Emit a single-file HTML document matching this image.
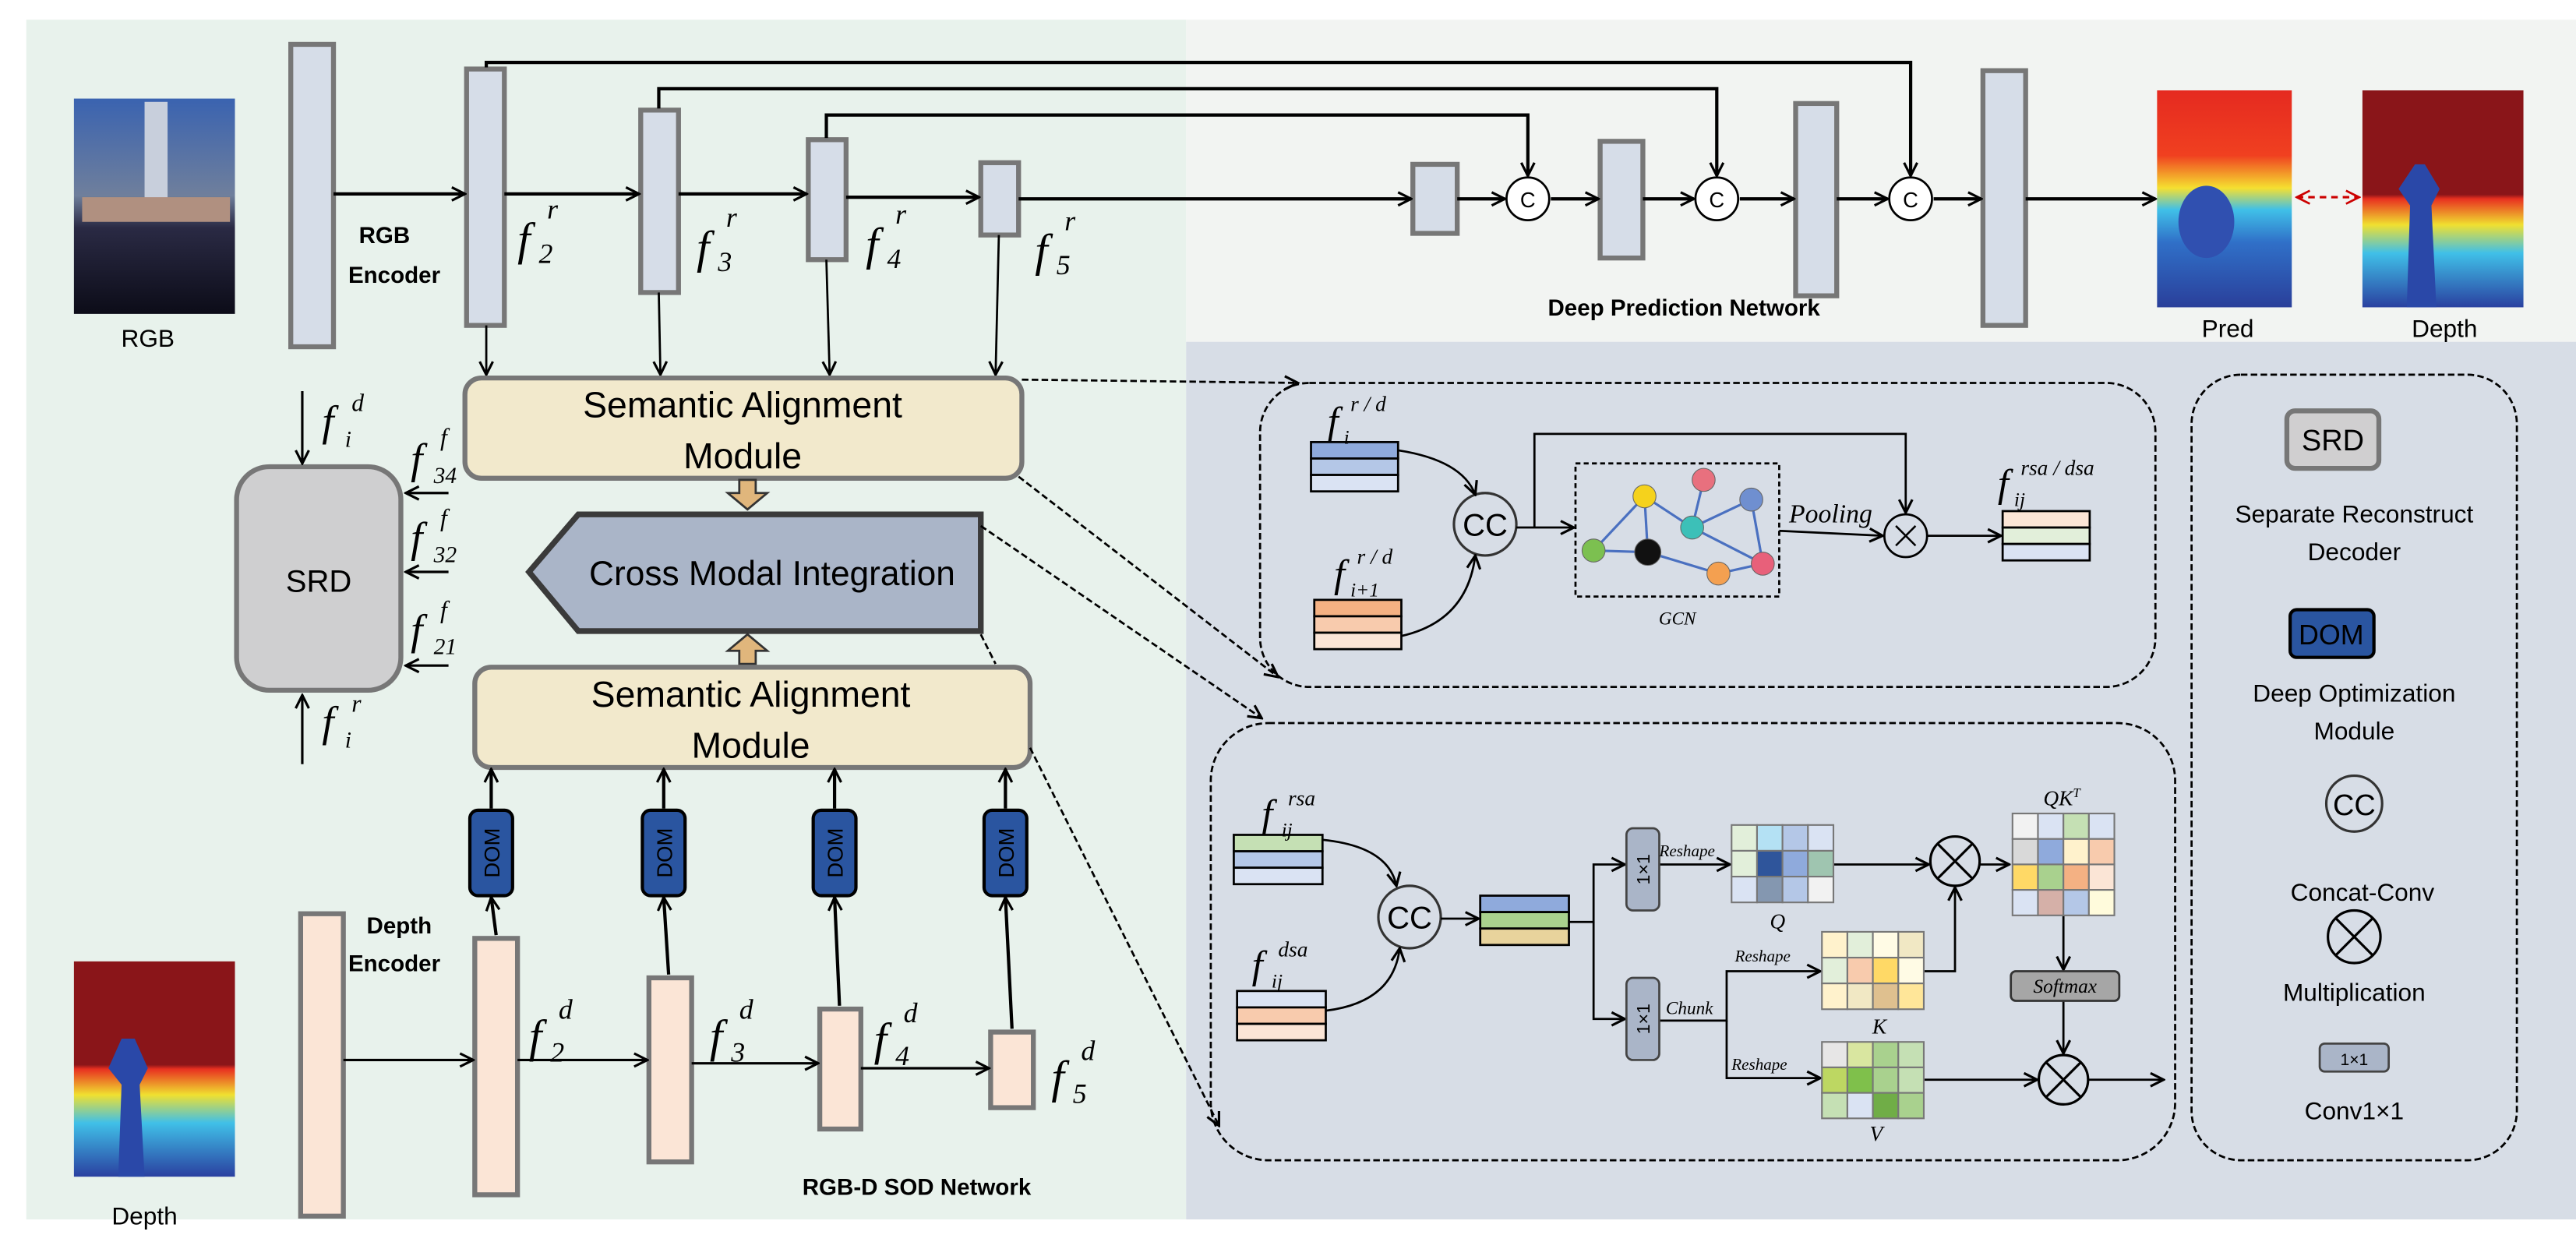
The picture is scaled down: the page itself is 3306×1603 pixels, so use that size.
<!DOCTYPE html>
<html><head><meta charset="utf-8"><style>
html,body{margin:0;padding:0;background:#fff;}
svg{display:block;}
text{font-family:"Liberation Sans Narrow","Liberation Sans",sans-serif;}
.m text, text.m{font-family:"Liberation Serif",serif;font-style:italic;}
</style></head><body>
<svg width="3306" height="1603" viewBox="0 0 1568 760" preserveAspectRatio="none" xmlns="http://www.w3.org/2000/svg">
<defs>
<marker id="a" markerWidth="10" markerHeight="10" refX="9" refY="5" orient="auto" markerUnits="userSpaceOnUse"><path d="M1,1 L9,5 L1,9" fill="none" stroke="#000" stroke-width="1.5"/></marker>
<marker id="ar" markerWidth="10" markerHeight="10" refX="9" refY="5" orient="auto-start-reverse" markerUnits="userSpaceOnUse"><path d="M1,1 L9,5 L1,9" fill="none" stroke="#c00" stroke-width="1.3"/></marker>
<linearGradient id="sky" x1="0" y1="0" x2="0" y2="1"><stop offset="0" stop-color="#3a63b0"/><stop offset="0.45" stop-color="#6f7f9c"/><stop offset="0.6" stop-color="#2a2a44"/><stop offset="1" stop-color="#0c0c18"/></linearGradient>
<linearGradient id="pred" x1="0" y1="0" x2="0" y2="1"><stop offset="0" stop-color="#e52a20"/><stop offset="0.3" stop-color="#f04020"/><stop offset="0.45" stop-color="#f5e030"/><stop offset="0.55" stop-color="#40c0e8"/><stop offset="0.7" stop-color="#3070c8"/><stop offset="1" stop-color="#2a3f9a"/></linearGradient>
<linearGradient id="dep" x1="0" y1="0" x2="0" y2="1"><stop offset="0" stop-color="#8a1519"/><stop offset="0.48" stop-color="#8a1519"/><stop offset="0.5" stop-color="#e83020"/><stop offset="0.62" stop-color="#f0e030"/><stop offset="0.75" stop-color="#40c0e8"/><stop offset="1" stop-color="#2a40a0"/></linearGradient>
</defs>
<rect width="1568" height="760" fill="#fff"/>
<rect x="16" y="12" width="706" height="730" fill="#e8f2ec"/>
<rect x="722" y="12" width="846" height="196" fill="#f2f4f2"/>
<rect x="722" y="208" width="846" height="534" fill="#d7dde6"/>

<rect x="45" y="60" width="98" height="131" fill="url(#sky)"/>
<rect x="88" y="62" width="14" height="60" fill="#c8cfdc"/>
<rect x="50" y="120" width="90" height="15" fill="#b09080"/>
<text x="90" y="211" font-size="15" text-anchor="middle">RGB</text>

<g fill="#d6dde8" stroke="#777" stroke-width="3">
<rect x="177" y="27" width="26" height="184"/>
<rect x="284" y="42" width="23" height="156"/>
<rect x="390" y="67" width="23" height="111"/>
<rect x="492" y="85" width="23" height="73"/>
<rect x="597" y="99" width="23" height="44"/>
<rect x="860" y="100" width="27" height="42"/>
<rect x="974" y="86" width="26" height="71"/>
<rect x="1093" y="63" width="25" height="117"/>
<rect x="1207" y="43" width="26" height="155"/>
</g>
<text x="234" y="148" font-size="14" font-weight="bold" text-anchor="middle">RGB</text>
<text x="240" y="172" font-size="14" font-weight="bold" text-anchor="middle">Encoder</text>
<g stroke="#000" stroke-width="2" fill="none" marker-end="url(#a)">
<line x1="203" y1="118" x2="283" y2="118"/>
<line x1="307" y1="118" x2="389" y2="118"/>
<line x1="413" y1="118" x2="491" y2="118"/>
<line x1="515" y1="120" x2="596" y2="120"/>
<line x1="620" y1="121" x2="859" y2="121"/>
<line x1="887" y1="121" x2="916" y2="121"/>
<line x1="944" y1="121" x2="973" y2="121"/>
<line x1="1000" y1="121" x2="1031" y2="121"/>
<line x1="1059" y1="121" x2="1092" y2="121"/>
<line x1="1118" y1="121" x2="1149" y2="121"/>
<line x1="1177" y1="121" x2="1206" y2="121"/>
<line x1="1233" y1="121" x2="1312" y2="121"/>
<polyline points="296,41 296,38 1163,38 1163,107"/>
<polyline points="401,66 401,54 1045,54 1045,107"/>
<polyline points="503,84 503,70 930,70 930,107"/>
</g>
<g fill="#fff" stroke="#000" stroke-width="1.3">
<circle cx="930" cy="121" r="13"/><circle cx="1045" cy="121" r="13"/><circle cx="1163" cy="121" r="13"/>
</g>
<g font-size="13" text-anchor="middle"><text x="930" y="126">C</text><text x="1045" y="126">C</text><text x="1163" y="126">C</text></g>
<g class="m" font-size="28">
<text x="315" y="155">f</text><text x="333" y="133" font-size="17">r</text><text x="328" y="160" font-size="17" font-style="normal">2</text>
<text x="424" y="160">f</text><text x="442" y="138" font-size="17">r</text><text x="437" y="165" font-size="17" font-style="normal">3</text>
<text x="527" y="158">f</text><text x="545" y="136" font-size="17">r</text><text x="540" y="163" font-size="17" font-style="normal">4</text>
<text x="630" y="162">f</text><text x="648" y="140" font-size="17">r</text><text x="643" y="167" font-size="17" font-style="normal">5</text>
</g>
<text x="1025" y="192" font-size="14" font-weight="bold" text-anchor="middle">Deep Prediction Network</text>

<rect x="1313" y="55" width="82" height="132" fill="url(#pred)"/>
<ellipse cx="1343" cy="135" rx="17" ry="22" fill="#3050b0"/>
<rect x="1438" y="55" width="98" height="132" fill="url(#dep)"/>
<path d="M1465,187 L1467,125 L1460,115 L1470,100 L1476,100 L1485,115 L1480,125 L1483,187Z" fill="#2a48a8"/>
<line x1="1398" y1="120" x2="1436" y2="120" stroke="#c00" stroke-width="1.5" stroke-dasharray="4,3" marker-start="url(#ar)" marker-end="url(#ar)"/>
<text x="1356" y="205" font-size="15" text-anchor="middle">Pred</text>
<text x="1488" y="205" font-size="15" text-anchor="middle">Depth</text>

<g stroke="#000" stroke-width="1.3" fill="none" marker-end="url(#a)">
<line x1="296" y1="198" x2="296" y2="228"/>
<line x1="401" y1="178" x2="402" y2="228"/>
<line x1="503" y1="158" x2="505" y2="228"/>
<line x1="608" y1="143" x2="606" y2="228"/>
</g>
<rect x="283" y="230" width="339" height="61" rx="10" fill="#f2e9cc" stroke="#777" stroke-width="3"/>
<text x="452" y="254" font-size="22" text-anchor="middle">Semantic Alignment</text>
<text x="452" y="285" font-size="22" text-anchor="middle">Module</text>
<path d="M450,292 h10 v8 h7 l-12,10 l-12,-10 h7z" fill="#e0b67c" stroke="#333" stroke-width="1.3"/>
<path d="M352,313 L597,313 L597,384 L352,384 L322,348Z" fill="#aab5c8" stroke="#3a3a3a" stroke-width="3.5"/>
<text x="470" y="356" font-size="21" text-anchor="middle">Cross Modal Integration</text>
<path d="M450,404 h10 v-8 h7 l-12,-10 l-12,10 h7z" fill="#e0b67c" stroke="#333" stroke-width="1.3"/>
<rect x="289" y="406" width="338" height="61" rx="10" fill="#f2e9cc" stroke="#777" stroke-width="3"/>
<text x="457" y="430" font-size="22" text-anchor="middle">Semantic Alignment</text>
<text x="457" y="461" font-size="22" text-anchor="middle">Module</text>

<rect x="144" y="284" width="100" height="136" rx="20" fill="#cfcfd0" stroke="#777" stroke-width="3"/>
<text x="194" y="360" font-size="19" text-anchor="middle">SRD</text>
<g stroke="#000" stroke-width="1.5" fill="none" marker-end="url(#a)">
<line x1="184" y1="238" x2="184" y2="282"/>
<line x1="273" y1="300" x2="247" y2="300"/>
<line x1="273" y1="348" x2="247" y2="348"/>
<line x1="273" y1="405" x2="247" y2="405"/>
<line x1="184" y1="465" x2="184" y2="423"/>
</g>
<g class="m" font-size="26">
<text x="196" y="265">f</text><text x="214" y="250" font-size="15">d</text><text x="210" y="272" font-size="14">i</text>
<text x="250" y="288">f</text><text x="268" y="271" font-size="15">f</text><text x="264" y="294" font-size="14" font-style="normal">34</text>
<text x="250" y="336">f</text><text x="268" y="320" font-size="15">f</text><text x="264" y="342" font-size="14" font-style="normal">32</text>
<text x="250" y="392">f</text><text x="268" y="376" font-size="15">f</text><text x="264" y="398" font-size="14" font-style="normal">21</text>
<text x="196" y="448">f</text><text x="214" y="433" font-size="15">r</text><text x="210" y="455" font-size="14">i</text>
</g>

<g fill="#2a55a0" stroke="#000" stroke-width="2">
<rect x="286" y="493" width="26" height="52" rx="5"/>
<rect x="391" y="493" width="26" height="52" rx="5"/>
<rect x="495" y="493" width="26" height="52" rx="5"/>
<rect x="599" y="493" width="26" height="52" rx="5"/>
</g>
<g font-size="13" text-anchor="middle">
<text transform="translate(304,519) rotate(-90)">DOM</text>
<text transform="translate(409,519) rotate(-90)">DOM</text>
<text transform="translate(513,519) rotate(-90)">DOM</text>
<text transform="translate(617,519) rotate(-90)">DOM</text>
</g>
<g stroke="#000" stroke-width="2" fill="none" marker-end="url(#a)">
<line x1="299" y1="492" x2="299" y2="468"/><line x1="404" y1="492" x2="404" y2="468"/>
<line x1="508" y1="492" x2="508" y2="468"/><line x1="612" y1="492" x2="612" y2="468"/>
<line x1="302" y1="569" x2="299" y2="546"/><line x1="407" y1="593" x2="404" y2="546"/>
<line x1="511" y1="612" x2="508" y2="546"/><line x1="616" y1="626" x2="612" y2="546"/>
</g>

<g fill="#fbe5d6" stroke="#777" stroke-width="3">
<rect x="183" y="556" width="26" height="184"/>
<rect x="289" y="571" width="26" height="156"/>
<rect x="395" y="595" width="26" height="112"/>
<rect x="499" y="614" width="25" height="73"/>
<rect x="603" y="628" width="26" height="46"/>
</g>
<g stroke="#000" stroke-width="1.5" fill="none" marker-end="url(#a)">
<line x1="209" y1="645" x2="288" y2="645"/>
<line x1="315" y1="645" x2="394" y2="645"/>
<line x1="421" y1="647" x2="498" y2="647"/>
<line x1="524" y1="650" x2="602" y2="650"/>
</g>
<text x="243" y="568" font-size="14" font-weight="bold" text-anchor="middle">Depth</text>
<text x="240" y="591" font-size="14" font-weight="bold" text-anchor="middle">Encoder</text>
<g class="m" font-size="28">
<text x="322" y="640">f</text><text x="340" y="620" font-size="17">d</text><text x="335" y="646" font-size="17" font-style="normal">2</text>
<text x="432" y="640">f</text><text x="450" y="620" font-size="17">d</text><text x="445" y="646" font-size="17" font-style="normal">3</text>
<text x="532" y="642">f</text><text x="550" y="622" font-size="17">d</text><text x="545" y="648" font-size="17" font-style="normal">4</text>
<text x="640" y="665">f</text><text x="658" y="645" font-size="17">d</text><text x="653" y="671" font-size="17" font-style="normal">5</text>
</g>
<rect x="45" y="585" width="98" height="131" fill="url(#dep)"/>
<path d="M72,716 L74,660 L66,650 L74,632 L82,632 L90,650 L85,660 L88,716Z" fill="#2a48a8"/>
<text x="88" y="745" font-size="15" text-anchor="middle">Depth</text>
<text x="558" y="727" font-size="14" font-weight="bold" text-anchor="middle">RGB-D SOD Network</text>

<g stroke="#000" stroke-width="1.3" fill="none" stroke-dasharray="4,2" marker-end="url(#a)">
<line x1="622" y1="231" x2="790" y2="233"/>
<line x1="620" y1="290" x2="778" y2="412"/>
<line x1="597" y1="320" x2="768" y2="437"/>
<line x1="627" y1="455" x2="742" y2="685"/>
</g>
<line x1="597" y1="386" x2="606" y2="404" stroke="#000" stroke-width="1.3" stroke-dasharray="4,2"/>

<rect x="767" y="233" width="545" height="185" rx="30" fill="none" stroke="#000" stroke-width="1.3" stroke-dasharray="4,2"/>
<g stroke="#000" stroke-width="1.3">
<rect x="798" y="269" width="53" height="10" fill="#8faadc"/><rect x="798" y="279" width="53" height="10" fill="#b4c7e7"/><rect x="798" y="289" width="53" height="10" fill="#dae3f3"/>
<rect x="800" y="365" width="53" height="10" fill="#f4b183"/><rect x="800" y="375" width="53" height="10" fill="#f8cbad"/><rect x="800" y="385" width="53" height="10" fill="#fbe5d6"/>
<rect x="1219" y="311" width="53" height="10" fill="#fbe5d6"/><rect x="1219" y="321" width="53" height="10" fill="#e2efda"/><rect x="1219" y="331" width="53" height="10" fill="#dae3f3"/>
</g>
<g class="m" font-size="24">
<text x="808" y="264">f</text><text x="822" y="250" font-size="13">r / d</text><text x="818" y="270" font-size="12">i</text>
<text x="812" y="357">f</text><text x="826" y="343" font-size="13">r / d</text><text x="822" y="363" font-size="12" font-style="normal">i+1</text>
<text x="1216" y="302">f</text><text x="1230" y="289" font-size="13">rsa / dsa</text><text x="1226" y="308" font-size="12">ij</text>
</g>
<circle cx="904" cy="319" r="19" fill="none" stroke="#333" stroke-width="1.5"/>
<text x="904" y="326" font-size="19" text-anchor="middle">CC</text>
<g stroke="#000" stroke-width="1.3" fill="none" marker-end="url(#a)">
<path d="M851,274 Q890,280 898,301"/>
<path d="M853,387 Q893,378 898,338"/>
<line x1="923" y1="321" x2="958" y2="321"/>
<polyline points="934,321 934,264 1160,264 1160,312"/>
<line x1="1083" y1="323" x2="1146" y2="326"/>
<line x1="1173" y1="326" x2="1218" y2="326"/>
</g>
<rect x="959" y="282" width="124" height="81" fill="none" stroke="#000" stroke-width="1.3" stroke-dasharray="3,2"/>
<g stroke="#4a70c0" stroke-width="1.5">
<line x1="970" y1="335" x2="1001" y2="302"/><line x1="1001" y1="302" x2="1003" y2="336"/><line x1="970" y1="335" x2="1003" y2="336"/>
<line x1="1001" y1="302" x2="1030" y2="321"/><line x1="1037" y1="292" x2="1030" y2="321"/><line x1="1066" y1="304" x2="1030" y2="321"/>
<line x1="1066" y1="304" x2="1073" y2="343"/><line x1="1030" y1="321" x2="1073" y2="343"/><line x1="1003" y1="336" x2="1046" y2="349"/><line x1="1046" y1="349" x2="1073" y2="343"/>
</g>
<g stroke="#666" stroke-width="0.5">
<circle cx="1001" cy="302" r="7" fill="#f5d21c"/><circle cx="1037" cy="292" r="7" fill="#e8707e"/><circle cx="1066" cy="304" r="7" fill="#6f8fd0"/>
<circle cx="1030" cy="321" r="7" fill="#3cc0b8"/><circle cx="970" cy="335" r="7" fill="#7cc050"/><circle cx="1003" cy="336" r="8" fill="#111"/>
<circle cx="1046" cy="349" r="7" fill="#f4a050"/><circle cx="1073" cy="343" r="7" fill="#e8607a"/>
</g>
<text x="1021" y="380" class="m" font-size="11" text-anchor="middle">GCN</text>
<text x="1089" y="318" class="m" font-size="16">Pooling</text>
<circle cx="1160" cy="326" r="13" fill="none" stroke="#000" stroke-width="1.3"/>
<path d="M1154,320 L1166,332 M1166,320 L1154,332" stroke="#000" stroke-width="1.2"/>

<rect x="737" y="440" width="587" height="266" rx="35" fill="none" stroke="#000" stroke-width="1.3" stroke-dasharray="4,2"/>
<g stroke="#000" stroke-width="1.3">
<rect x="751" y="508" width="54" height="10" fill="#c5e0b4"/><rect x="751" y="518" width="54" height="10" fill="#b4c7e7"/><rect x="751" y="528" width="54" height="10" fill="#dae3f3"/>
<rect x="753" y="603" width="54" height="10" fill="#dae3f3"/><rect x="753" y="613" width="54" height="10" fill="#f8cbad"/><rect x="753" y="623" width="54" height="10" fill="#fbe5d6"/>
<rect x="901" y="545" width="54" height="10" fill="#8faadc"/><rect x="901" y="555" width="54" height="10" fill="#a9d18e"/><rect x="901" y="565" width="54" height="10" fill="#e8d39c"/>
</g>
<g class="m" font-size="24">
<text x="768" y="503">f</text><text x="784" y="490" font-size="13">rsa</text><text x="780" y="509" font-size="12">ij</text>
<text x="762" y="595">f</text><text x="778" y="582" font-size="13">dsa</text><text x="774" y="601" font-size="12">ij</text>
</g>
<circle cx="858" cy="558" r="19" fill="none" stroke="#333" stroke-width="1.5"/>
<text x="858" y="565" font-size="19" text-anchor="middle">CC</text>
<g stroke="#000" stroke-width="1.3" fill="none" marker-end="url(#a)">
<path d="M805,511 Q845,515 850,539"/>
<path d="M807,615 Q848,610 852,577"/>
<line x1="877" y1="559" x2="900" y2="559"/>
<polyline points="955,561 970,561 970,526 989,526"/>
<polyline points="970,561 970,620 989,620"/>
<line x1="1010" y1="526" x2="1053" y2="526"/>
<line x1="1116" y1="526" x2="1174" y2="526"/>
<line x1="1205" y1="526" x2="1223" y2="526"/>
<polyline points="1010,621 1051,621 1051,591 1108,591"/>
<polyline points="1051,621 1051,656 1108,656"/>
<polyline points="1171,591 1190,591 1190,540"/>
<line x1="1256" y1="557" x2="1256" y2="590"/>
<line x1="1256" y1="609" x2="1256" y2="641"/>
<line x1="1171" y1="657" x2="1240" y2="657"/>
<line x1="1271" y1="657" x2="1317" y2="657"/>
</g>
<g fill="#aab5c8" stroke="#444" stroke-width="1.3">
<rect x="990" y="504" width="20" height="50" rx="4"/>
<rect x="990" y="595" width="20" height="50" rx="4"/>
</g>
<text transform="translate(1004,529) rotate(-90)" font-size="11" text-anchor="middle">1×1</text>
<text transform="translate(1004,620) rotate(-90)" font-size="11" text-anchor="middle">1×1</text>
<g class="m" font-size="10">
<text x="1010" y="521">Reshape</text>
<text x="1056" y="585">Reshape</text>
<text x="1054" y="651">Reshape</text>
<text x="1014" y="617" font-size="11">Chunk</text>
</g>
<g stroke="#777" stroke-width="1">
<rect x="1054" y="502" width="15.5" height="15.7" fill="#e2efda"/><rect x="1069.5" y="502" width="15.5" height="15.7" fill="#b4e1f4"/><rect x="1085" y="502" width="15.5" height="15.7" fill="#b4c7e7"/><rect x="1100.5" y="502" width="15.5" height="15.7" fill="#dae3f3"/>
<rect x="1054" y="517.7" width="15.5" height="15.7" fill="#e2efda"/><rect x="1069.5" y="517.7" width="15.5" height="15.7" fill="#2f559b"/><rect x="1085" y="517.7" width="15.5" height="15.7" fill="#8faadc"/><rect x="1100.5" y="517.7" width="15.5" height="15.7" fill="#9fc5b0"/>
<rect x="1054" y="533.4" width="15.5" height="15.7" fill="#dae3f3"/><rect x="1069.5" y="533.4" width="15.5" height="15.7" fill="#8497b0"/><rect x="1085" y="533.4" width="15.5" height="15.7" fill="#b4c7e7"/><rect x="1100.5" y="533.4" width="15.5" height="15.7" fill="#f2f2f2"/>
<rect x="1109" y="567" width="15.5" height="15.7" fill="#fff2cc"/><rect x="1124.5" y="567" width="15.5" height="15.7" fill="#e2efda"/><rect x="1140" y="567" width="15.5" height="15.7" fill="#fffbe5"/><rect x="1155.5" y="567" width="15.5" height="15.7" fill="#f1e8c4"/>
<rect x="1109" y="582.7" width="15.5" height="15.7" fill="#e2efda"/><rect x="1124.5" y="582.7" width="15.5" height="15.7" fill="#f8cbad"/><rect x="1140" y="582.7" width="15.5" height="15.7" fill="#ffd966"/><rect x="1155.5" y="582.7" width="15.5" height="15.7" fill="#fffbe5"/>
<rect x="1109" y="598.4" width="15.5" height="15.7" fill="#fff2cc"/><rect x="1124.5" y="598.4" width="15.5" height="15.7" fill="#f1e8c4"/><rect x="1140" y="598.4" width="15.5" height="15.7" fill="#dfc08f"/><rect x="1155.5" y="598.4" width="15.5" height="15.7" fill="#ffe699"/>
<rect x="1109" y="634" width="15.5" height="15.5" fill="#e7e6e6"/><rect x="1124.5" y="634" width="15.5" height="15.5" fill="#d9e6a0"/><rect x="1140" y="634" width="15.5" height="15.5" fill="#a9d18e"/><rect x="1155.5" y="634" width="15.5" height="15.5" fill="#c5e0b4"/>
<rect x="1109" y="649.5" width="15.5" height="15.5" fill="#bdd762"/><rect x="1124.5" y="649.5" width="15.5" height="15.5" fill="#7fc04b"/><rect x="1140" y="649.5" width="15.5" height="15.5" fill="#a9d18e"/><rect x="1155.5" y="649.5" width="15.5" height="15.5" fill="#c5e0b4"/>
<rect x="1109" y="665" width="15.5" height="15.5" fill="#c5e0b4"/><rect x="1124.5" y="665" width="15.5" height="15.5" fill="#dae3f3"/><rect x="1140" y="665" width="15.5" height="15.5" fill="#70ad47"/><rect x="1155.5" y="665" width="15.5" height="15.5" fill="#a9d18e"/>
<rect x="1225" y="495" width="15.5" height="15.5" fill="#f2f2f2"/><rect x="1240.5" y="495" width="15.5" height="15.5" fill="#dae3f3"/><rect x="1256" y="495" width="15.5" height="15.5" fill="#c5e0b4"/><rect x="1271.5" y="495" width="15.5" height="15.5" fill="#dae3f3"/>
<rect x="1225" y="510.5" width="15.5" height="15.5" fill="#d9d9d9"/><rect x="1240.5" y="510.5" width="15.5" height="15.5" fill="#8faadc"/><rect x="1256" y="510.5" width="15.5" height="15.5" fill="#fff2cc"/><rect x="1271.5" y="510.5" width="15.5" height="15.5" fill="#f8cbad"/>
<rect x="1225" y="526" width="15.5" height="15.5" fill="#ffd966"/><rect x="1240.5" y="526" width="15.5" height="15.5" fill="#a9d18e"/><rect x="1256" y="526" width="15.5" height="15.5" fill="#f4b183"/><rect x="1271.5" y="526" width="15.5" height="15.5" fill="#fbe5d6"/>
<rect x="1225" y="541.5" width="15.5" height="15.5" fill="#dae3f3"/><rect x="1240.5" y="541.5" width="15.5" height="15.5" fill="#d5b0a8"/><rect x="1256" y="541.5" width="15.5" height="15.5" fill="#b4c7e7"/><rect x="1271.5" y="541.5" width="15.5" height="15.5" fill="#fffbdc"/>
</g>
<g class="m" font-size="13" text-anchor="middle">
<text x="1082" y="565">Q</text><text x="1144" y="629">K</text><text x="1142" y="694">V</text>
<text x="1255" y="490">QK<tspan font-size="8" dy="-5">T</tspan></text>
</g>
<rect x="1224" y="591" width="66" height="18" rx="3" fill="#a6a6a6" stroke="#333" stroke-width="1.3"/>
<text x="1257" y="604" class="m" font-size="12" text-anchor="middle">Softmax</text>
<g fill="none" stroke="#000" stroke-width="1.5">
<circle cx="1190" cy="524" r="15"/><path d="M1179.4,513.4 L1200.6,534.6 M1200.6,513.4 L1179.4,534.6"/>
<circle cx="1256" cy="657" r="15"/><path d="M1245.4,646.4 L1266.6,667.6 M1266.6,646.4 L1245.4,667.6"/>
</g>

<rect x="1334" y="228" width="198" height="478" rx="30" fill="none" stroke="#000" stroke-width="1.3" stroke-dasharray="4,2"/>
<rect x="1392" y="250" width="56" height="35" rx="5" fill="#d0cfd0" stroke="#777" stroke-width="3"/>
<text x="1420" y="274" font-size="18" text-anchor="middle">SRD</text>
<text x="1433" y="318" font-size="15" text-anchor="middle">Separate Reconstruct</text>
<text x="1433" y="341" font-size="15" text-anchor="middle">Decoder</text>
<rect x="1394" y="371" width="51" height="29" rx="4" fill="#2a55a0" stroke="#000" stroke-width="2"/>
<text x="1419" y="392" font-size="17" text-anchor="middle">DOM</text>
<text x="1433" y="427" font-size="15" text-anchor="middle">Deep Optimization</text>
<text x="1433" y="450" font-size="15" text-anchor="middle">Module</text>
<circle cx="1433" cy="489" r="17" fill="none" stroke="#333" stroke-width="1.5"/>
<text x="1433" y="496" font-size="18" text-anchor="middle">CC</text>
<text x="1438" y="548" font-size="15" text-anchor="middle">Concat-Conv</text>
<g fill="none" stroke="#000" stroke-width="1.5"><circle cx="1433" cy="570" r="16"/><path d="M1421.7,558.7 L1444.3,581.3 M1444.3,558.7 L1421.7,581.3"/></g>
<text x="1433" y="609" font-size="15" text-anchor="middle">Multiplication</text>
<rect x="1412" y="635" width="42" height="17" rx="3" fill="#aab5c8" stroke="#444" stroke-width="1.3"/>
<text x="1433" y="648" font-size="10" text-anchor="middle">1×1</text>
<text x="1433" y="681" font-size="15" text-anchor="middle">Conv1×1</text>
</svg>
</body></html>
